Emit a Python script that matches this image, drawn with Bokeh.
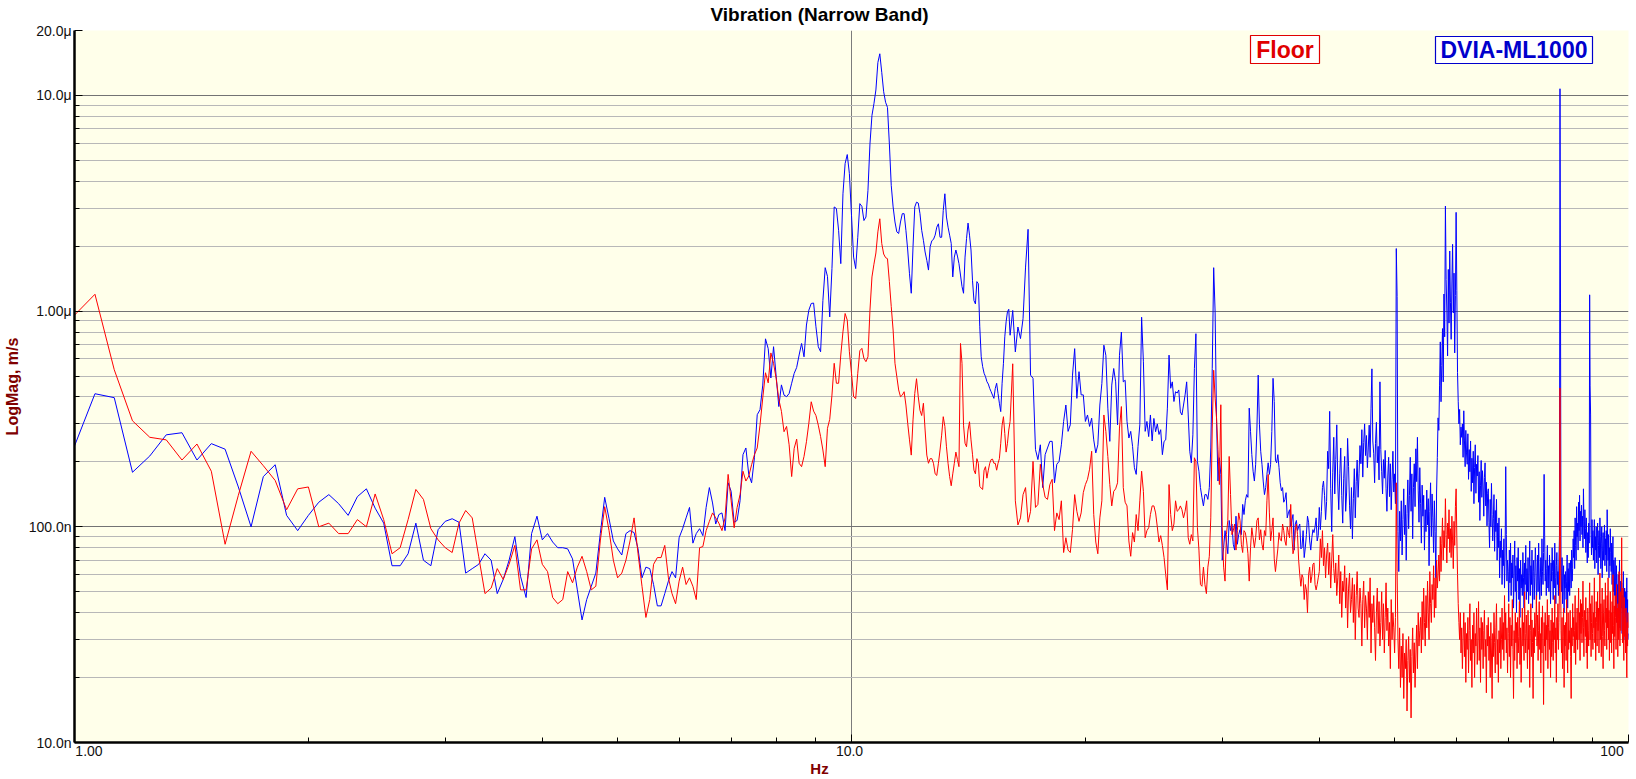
import numpy as np
from bokeh.plotting import figure
from bokeh.models import Range1d, FixedTicker, CustomJSTickFormatter, Label, BoxAnnotation, LinearAxis
from bokeh.embed import file_html
from bokeh.resources import INLINE

FONT = "Liberation Sans"

# ---------------- data (values in nm/s) ----------------
# low band: 1.0 Hz .. 15.9375 Hz, bin width 0.0625 Hz
LO_START, LO_STEP = 1.0, 0.0625
# high band: 16 Hz .. 100 Hz, read every 0.125 Hz
HI_START, HI_STEP = 16.0, 0.125

floor_lo = [
    958, 1197, 535, 310, 260, 253, 204, 242, 181, 83, 140, 224, 192, 164, 120, 150,
    153, 100, 104, 93, 93, 108, 100, 142, 108, 75, 80, 108, 149, 134, 98, 87,
    80, 76, 104, 119, 110, 73, 49, 52, 64, 57, 67, 82, 51, 51, 79, 87,
    67, 62, 47, 44, 46, 62, 55, 65, 73, 62, 51, 53, 86, 124, 96, 70,
    58, 61, 70, 86, 110, 75, 53, 38, 46, 67, 72, 72, 82, 58, 49, 44,
    56, 65, 54, 58, 53, 46, 80, 81, 96, 106, 116, 110, 104, 96, 110, 175,
    132, 99, 123, 141, 181, 163, 172, 194, 216, 232, 296, 396, 518, 465, 640,
    573, 486, 390, 343, 276, 292, 240, 171, 231, 255, 197, 190, 212, 248, 302, 380,
    344, 328, 296, 262, 227, 190, 286, 315, 408, 573, 463, 463, 626, 802, 975, 908,
    648, 515, 401, 393, 515, 655, 672, 604, 583, 614, 1010, 1440, 1650, 1860, 2330, 2680,
    2060, 1840, 1770, 1750, 1370, 1050, 817, 573, 497, 431, 401, 408, 423, 367, 302, 253,
    215, 313, 415, 486, 401, 347, 328, 374, 281, 215, 197, 207, 207, 197, 176, 173,
    197, 227, 266, 324, 292, 235, 197, 171, 155, 176, 197, 222, 205, 190, 708, 573,
    296, 244, 235, 281, 307, 253, 217, 183, 176, 207, 197, 154, 151, 149, 183, 190,
    168, 183, 197, 205, 206, 197, 197, 183, 197, 207, 244, 296, 324, 271, 222, 244,
    281,
]

dvia_lo = [
    237, 414, 397, 179, 213, 267, 273, 204, 243, 229, 153, 100, 171, 194, 113, 96,
    113, 130, 141, 128, 113, 138, 150, 122, 104, 66, 66, 75, 104, 70, 66, 97,
    106, 109, 105, 61, 64, 67, 75, 70, 49, 57, 70, 90, 59, 47, 93, 112,
    87, 93, 85, 80, 80, 79, 71, 51, 37, 46, 53, 61, 93, 137, 109, 86,
    79, 74, 93, 96, 94, 79, 58, 65, 64, 54, 43, 43, 49, 56, 62, 58,
    89, 98, 110, 123, 84, 93, 98, 91, 123, 152, 129, 103, 114, 116, 96, 160,
    146, 105, 107, 132, 216, 232, 175, 160, 209, 331, 349, 454, 744, 670, 490,
    684, 497, 361, 455, 408, 401, 415, 463, 514, 548, 626, 708, 614, 862, 1010, 1085,
    1090, 846, 684, 648, 1120, 1590, 1450, 940, 1575, 3040, 2990, 2370, 1660, 3500, 4830, 5320,
    4340, 2780, 1780, 1575, 2200, 3150, 3060, 2630, 2730, 3630, 5960, 8080, 9150, 10600, 14200, 15600,
    12800, 10400, 9300, 8800, 5960, 3830, 3040, 2590, 2330, 2290, 2590, 2830, 2830, 2370, 1920, 1490,
    1210, 1990, 3040, 3200, 3170, 2830, 2370, 2130, 1880, 1720, 1550, 1990, 2120, 2150, 2250, 2450,
    2540, 2200, 2200, 2930, 3500, 2730, 2450, 2250, 2060, 1440, 1780, 1920, 1800, 1660, 1470, 1300,
    1210, 1780, 2170, 2560, 2250, 1920, 1390, 1120, 1080, 1370, 1340, 846, 614, 553, 515, 497,
    471, 459, 438, 423, 408, 394, 438, 463, 415, 374, 342, 463, 573, 760, 892, 993,
    1020,
]

floor_hi = [
    308, 570, 132, 102, 110, 141, 152, 105,
    118, 201, 123, 127, 195, 157, 137, 134,
    157, 166, 96, 116, 108, 132, 76, 89,
    78, 76, 97, 141, 118, 106, 116, 144,
    157, 166, 185, 224, 114, 85, 75, 110,
    132, 330, 277, 212, 157, 125, 146, 150,
    160, 287, 361, 152, 130, 125, 86, 73,
    94, 85, 114, 96, 132, 181, 146, 89,
    96, 99, 114, 125, 125, 116, 100, 85,
    91, 82, 72, 60, 51, 157, 114, 96,
    103, 132, 118, 120, 125, 120, 110, 118,
    132, 89, 83, 92, 86, 209, 201, 99,
    78, 54, 53, 65, 54, 49, 65, 73,
    110, 287, 532, 394, 319, 228, 157, 368,
    99, 65, 56, 92, 107, 212, 141, 92,
    96, 103, 78, 96, 116, 107, 83, 76,
    96, 94, 86, 75, 56, 80, 99, 89,
    80, 89, 107, 110, 87, 97, 83, 78,
    96, 91, 132, 175, 116, 86, 96, 110,
    71, 62, 70, 79, 94, 87, 86, 103,
    96, 86, 82, 100, 94, 89, 127, 92,
    75, 79, 96, 103, 92, 70, 60, 53,
    60, 58, 46, 54, 51, 40, 60, 65,
    55, 59, 67, 68, 54, 51, 54, 58,
    62, 88, 72, 96, 66, 80, 58, 74,
    84, 60, 76, 52, 70, 92, 64, 55,
    68, 48, 58, 74, 44, 62, 38, 56,
    50, 66, 42, 58, 34, 52, 61, 40,
    46, 58, 36, 54, 30, 48, 62, 42,
    38, 52, 44, 28, 46, 56, 34, 48,
    42, 30, 50, 38, 58, 26, 44, 36,
    48, 34, 24, 40, 52, 32, 45, 28,
    36, 50, 30, 44, 26, 38, 55, 33,
    42, 28, 36, 22, 46, 30, 40, 34,
    26, 38, 160, 62, 30, 22, 34, 18,
    28, 20, 32, 16, 26, 22, 30, 14,
    24, 31, 19, 27, 13, 25, 34, 21,
    29, 18, 26, 35, 22, 40, 28, 33,
    38, 26, 45, 30, 52, 36, 28, 48,
    34, 56, 40, 30, 62, 44, 36, 54,
    46, 66, 38, 58, 42, 70, 52, 60,
    74, 56, 90, 62, 84, 110, 70, 96,
    80, 135, 92, 68, 104, 88, 120, 76,
    98, 72, 112, 86, 64, 106, 82, 124,
    150, 90, 60, 44, 36, 30, 40, 26,
    34, 22, 30, 40, 25, 36, 19, 32,
    27, 38, 21, 33, 44, 24, 30, 18,
    35, 26, 40, 20, 32, 28, 42, 23,
    30, 45, 24, 34, 19, 38, 27, 36,
    22, 33, 41, 25, 30, 17, 35, 28,
    38, 24, 31, 20, 36, 26, 16, 32,
    25, 40, 29, 21, 34, 44, 23, 30,
    19, 33, 26, 38, 22, 30, 42, 27,
    36, 24, 48, 30, 40, 26, 34, 21,
    32, 44, 25, 38, 20, 35, 28, 46,
    27, 16, 33, 24, 40, 29, 36, 22,
    38, 26, 31, 45, 23, 34, 19, 30,
    42, 28, 36, 24, 50, 32, 26, 39,
    30, 22, 41, 27, 35, 18, 33, 44,
    25, 37, 29, 16, 34, 26, 40, 31,
    36, 48, 28, 39, 24, 33, 45, 27,
    32, 21, 38, 26, 43, 30, 15, 36,
    28, 40, 24, 35, 30, 46, 22, 34,
    39, 27, 33, 20, 37, 25, 42, 29,
    24, 36, 30, 48, 26, 34, 19, 38,
    30, 44, 27, 36, 52, 440, 90, 33,
    26, 38, 22, 31, 42, 18, 35, 28,
    36, 24, 46, 30, 21, 40, 27, 33,
    29, 41, 25, 16, 34, 28, 44, 31,
    38, 26, 33, 48, 23, 36, 30, 42,
    27, 35, 52, 30, 40, 24, 46, 32,
    44, 29, 38, 56, 34, 25, 41, 36,
    31, 47, 26, 37, 22, 42, 33, 28,
    39, 55, 30, 44, 25, 36, 48, 32,
    27, 40, 34, 58, 29, 38, 24, 45,
    36, 28, 50, 33, 42, 26, 39, 61,
    30, 44, 25, 37, 52, 31, 22, 40,
    46, 33, 28, 55, 36, 42, 27, 48,
    34, 58, 30, 41, 24, 38, 50, 29,
    40, 26, 45, 32, 60, 35, 22, 43,
    31, 48, 38, 27, 54, 36, 42, 25,
    44, 30, 62, 37, 28, 50, 33, 46,
    89, 40, 29, 52, 35, 24, 47, 31,
    38, 26, 42, 30, 20, 36, 28, 40,
    34,
]

dvia_hi = [
    773, 1007, 647, 844, 746, 922, 1600, 2395,
    505, 488, 228, 205, 240, 152, 216, 232,
    249, 249, 160, 195, 201, 240, 308, 367,
    277, 297, 505, 670, 394, 524, 409, 409,
    308, 330, 292, 319, 253, 220, 240, 367,
    462, 695, 624, 355, 249, 454, 542, 470,
    297, 624, 800, 470, 478, 308, 258, 277,
    236, 188, 175, 236, 297, 937, 582, 277,
    308, 262, 330, 250, 318, 276, 300, 268,
    282, 216, 249, 253, 355, 625, 439, 470,
    381, 423, 417, 431, 341, 330, 367, 409,
    470, 330, 224, 198, 267, 542, 786, 201,
    181, 152, 137, 125, 141, 141, 134, 152,
    232, 542, 1590, 990, 308, 163, 209, 175,
    70, 80, 96, 85, 75, 107, 96, 103,
    83, 78, 112, 83, 92, 97, 92, 127,
    114, 132, 141, 137, 355, 277, 216, 181,
    163, 195, 287, 505, 297, 224, 195, 163,
    141, 152, 175, 198, 175, 195, 277, 488,
    381, 204, 198, 216, 188, 160, 147, 152,
    130, 134, 144, 110, 116, 120, 100, 107,
    114, 78, 103, 107, 96, 100, 103, 79,
    80, 96, 72, 80, 92, 112, 105, 86,
    78, 89, 97, 94, 100, 110, 86, 91,
    123, 97, 118, 152, 163, 140, 108, 131,
    224, 186, 343, 150, 95, 178, 260, 142,
    205, 297, 158, 120, 176, 232, 140, 104,
    168, 212, 118, 145, 257, 190, 126, 98,
    152, 88, 135, 186, 110, 162, 204, 137,
    176, 238, 196, 282, 170, 246, 300, 214,
    265, 188, 232, 296, 210, 355, 540, 250,
    218, 160, 244, 305, 198, 236, 165, 470,
    228, 180, 142, 205, 168, 226, 150, 118,
    172, 210, 138, 196, 120, 165, 224, 145,
    176, 128, 1950, 1170, 95, 62, 118, 86,
    132, 74, 108, 150, 92, 126, 70, 115,
    165, 98, 140, 210, 118, 176, 88, 152,
    196, 124, 230, 162, 260, 148, 105, 188,
    128, 84, 156, 112, 140, 78, 120, 95,
    148, 102, 135, 66, 118, 160, 90, 142,
    110, 76, 132, 95, 58, 145, 210, 320,
    280, 450, 720, 380, 560, 830, 470, 1200,
    760, 3070, 1400, 1000, 620, 1560, 880, 1900,
    1100, 740, 1350, 2040, 980, 1500, 640, 1180,
    2870, 1250, 520, 380, 300, 350, 240, 290,
    260, 300, 210, 345, 250, 190, 280, 220,
    195, 270, 166, 228, 180, 250, 146, 208,
    160, 224, 128, 188, 240, 143, 195, 172,
    214, 130, 180, 107, 156, 203, 137, 182,
    153, 112, 169, 198, 125, 161, 101, 143,
    150, 105, 80, 134, 100, 159, 114, 86,
    109, 141, 77, 119, 95, 134, 70, 104,
    80, 110, 58, 86, 72, 98, 54, 78,
    66, 88, 52, 74, 190, 92, 56, 70,
    62, 45, 78, 55, 84, 48, 68, 58,
    74, 42, 60, 86, 50, 66, 40, 72,
    56, 80, 46, 64, 38, 70, 52, 60,
    48, 76, 58, 42, 68, 54, 82, 46,
    64, 50, 72, 44, 60, 86, 48, 66,
    54, 78, 42, 62, 70, 46, 58, 80,
    68, 44, 56, 74, 50, 84, 60, 46,
    58, 72, 48, 88, 62, 54, 76, 175,
    90, 56, 70, 48, 64, 82, 52, 66,
    50, 74, 60, 44, 68, 56, 80, 62,
    46, 70, 52, 84, 58, 44, 66, 76,
    54, 62, 48, 70, 90, 10740, 1090, 64,
    50, 72, 44, 58, 66, 40, 60, 52,
    62, 46, 56, 74, 42, 64, 50, 68,
    48, 60, 70, 52, 78, 56, 64, 88,
    72, 96, 64, 110, 82, 70, 124, 90,
    104, 78, 130, 96, 140, 86, 118, 100,
    126, 92, 112, 80, 150, 106, 88, 120,
    98, 76, 110, 86, 68, 94, 72, 104,
    84, 1190, 450, 330, 92, 74, 108, 80,
    96, 70, 86, 108, 64, 90, 78, 100,
    68, 88, 104, 60, 82, 96, 72, 110,
    90, 64, 84, 100, 58, 78, 94, 70,
    80, 102, 66, 88, 74, 96, 62, 120,
    86, 70, 92, 58, 80, 66, 98, 76,
    62, 84, 54, 74, 90, 50, 70, 60,
    48, 72, 40, 58, 66, 36, 54, 44,
    60, 38, 50, 70, 34, 46, 56, 42,
    55, 32, 48, 40, 62, 30, 44, 52,
    36, 50, 28, 42, 58, 34, 46, 30,
    32,
]

series_names = ["Floor", "DVIA-ML1000"]
series_colors = ["#FF0000", "#0000FF"]
legend_text_colors = ["#E00000", "#0000CC"]

title_text = "Vibration (Narrow Band)"
x_title = "Hz"
y_title = "LogMag, m/s"
x_tick_values = [1, 10, 100]
x_tick_labels = ["1.00", "10.0", "100"]
x_minor_ticks = [2, 3, 4, 5, 6, 7, 8, 9, 20, 30, 40, 50, 60, 70, 80, 90]
y_tick_values = [1e-8, 1e-7, 1e-6, 1e-5, 2e-5]
y_tick_labels = ["10.0n", "100.0n", "1.00\u03bc", "10.0\u03bc", "20.0\u03bc"]
y_minor_ticks = [k * 10.0 ** e for e in (-8, -7, -6) for k in range(2, 10)]


def build(lo, hi):
    f = np.concatenate([LO_START + LO_STEP * np.arange(len(lo)),
                        HI_START + HI_STEP * np.arange(len(hi))])
    v = np.array(lo + hi, dtype=float) * 1e-9
    return f, v


f_floor, v_floor = build(floor_lo, floor_hi)
f_dvia, v_dvia = build(dvia_lo, dvia_hi)

# ---------------- layout (page pixels) ----------------
W, H = 1636, 779
FL, FR, FT, FB = 72, 1628, 28, 742          # frame edges
FRAME_W = FR - FL
DECADE = FRAME_W / 2.0                       # x axis spans two decades


def x_at(page_x):
    """data x (Hz) that sits at a given page x on the log axis"""
    return 10 ** ((page_x - FL) / DECADE)


p = figure(width=W, height=H, x_axis_type="log", y_axis_type="log",
           x_range=Range1d(1, 100), y_range=Range1d(1e-8, 2e-5),
           output_backend="svg", toolbar_location=None,
           min_border_left=FL, min_border_right=W - FR,
           min_border_top=FT, min_border_bottom=H - FB)
p.background_fill_color = "#FFFFEA"
p.border_fill_color = "white"
p.outline_line_color = None

# main axes
xa = p.xaxis[0]
ya = p.yaxis[0]
xa.ticker = FixedTicker(ticks=x_tick_values, minor_ticks=x_minor_ticks)
xa.formatter = CustomJSTickFormatter(code="return '';")
xa.major_label_text_font_size = "0px"
xa.major_label_standoff = 0
ya.ticker = FixedTicker(ticks=y_tick_values, minor_ticks=y_minor_ticks)
ya.formatter = CustomJSTickFormatter(
    args=dict(vals=y_tick_values, labs=y_tick_labels),
    code="""for (let i = 0; i < vals.length; i++) {
  if (Math.abs(tick / vals[i] - 1) < 1e-6) { return labs[i]; }
}
return '';""")
ya.major_label_text_font = FONT
ya.major_label_text_font_size = "14px"
ya.major_label_text_color = "#111111"
ya.major_label_standoff = 3
ya.axis_label = y_title
ya.axis_label_text_font = FONT
ya.axis_label_text_font_size = "16px"
ya.axis_label_text_font_style = "bold"
ya.axis_label_text_color = "#800000"
ya.axis_label_standoff = 5
for ax in (xa, ya):
    ax.axis_line_color = "black"
    ax.axis_line_width = 2.5
    ax.major_tick_in = 8
    ax.major_tick_out = 0
    ax.minor_tick_in = 5
    ax.minor_tick_out = 0
    ax.major_tick_line_color = "black"
    ax.minor_tick_line_color = "black"

NEAREST = """let best = 0;
for (let i = 1; i < pos.length; i++) {
  if (Math.abs(Math.log(tick / pos[i])) < Math.abs(Math.log(tick / pos[best]))) { best = i; }
}
return labs[best];"""


def text_axis(positions, labels, size, style, color, standoff, side):
    ax = LinearAxis(ticker=FixedTicker(ticks=positions),
                    formatter=CustomJSTickFormatter(args=dict(pos=positions, labs=labels), code=NEAREST))
    ax.axis_line_color = None
    ax.major_tick_line_color = None
    ax.minor_tick_line_color = None
    ax.major_tick_in = 0
    ax.major_tick_out = 0
    ax.minor_tick_in = 0
    ax.minor_tick_out = 0
    ax.major_label_standoff = standoff
    ax.major_label_text_font = FONT
    ax.major_label_text_font_size = size
    ax.major_label_text_font_style = style
    ax.major_label_text_color = color
    p.add_layout(ax, side)
    return ax


# x tick labels: "1.00" starts at its tick, "100" ends at its tick
tick_label_centres = [x_at(86.5), x_at(848), x_at(1611.5)]
text_axis(tick_label_centres, x_tick_labels, "14px", "normal", "#111111", 3, "below")
text_axis([x_at(818)], [x_title], "15px", "bold", "#800000", 1, "below")
text_axis([x_at(818)], [title_text], "19px", "bold", "black", 6, "above")

# grids
p.xgrid.ticker = FixedTicker(ticks=[10])
p.xgrid.grid_line_color = "#7c7c7c"
p.xgrid.minor_grid_line_color = None
p.ygrid.ticker = FixedTicker(ticks=[1e-7, 1e-6, 1e-5], minor_ticks=y_minor_ticks)
p.ygrid.grid_line_color = "#737373"
p.ygrid.minor_grid_line_color = "#b8b8b8"

# traces (floor drawn on top)
p.line(f_dvia, v_dvia, line_color=series_colors[1], line_width=1)
p.line(f_floor, v_floor, line_color=series_colors[0], line_width=1)


# legend boxes (frame-relative screen units)
def sx(page_x):
    return page_x - FL


def sy(page_y):
    return FB - page_y


legend_boxes = [(1248, 1317, 35, 63), (1433, 1590, 36, 63)]
for name, col, (l, r, t, b) in zip(series_names, legend_text_colors, legend_boxes):
    p.add_layout(BoxAnnotation(left=sx(l), right=sx(r), top=sy(t), bottom=sy(b),
                               left_units="screen", right_units="screen",
                               top_units="screen", bottom_units="screen",
                               fill_color="white", fill_alpha=1.0,
                               line_color=col, line_width=1.2, line_alpha=1.0))
    p.add_layout(Label(x=sx((l + r) / 2), y=sy(49), x_units="screen", y_units="screen",
                       text=name, text_align="center", text_baseline="alphabetic",
                       text_font=FONT, text_font_style="bold", text_font_size="23px",
                       text_color=col))

open("out.html", "w").write(file_html(p, INLINE))
